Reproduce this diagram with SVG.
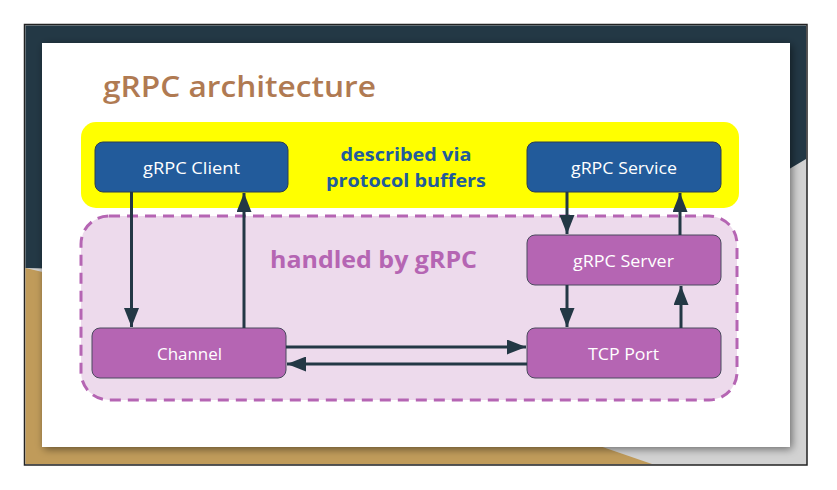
<svg xmlns="http://www.w3.org/2000/svg" width="837" height="490" viewBox="0 0 837 490">
  <defs>
    <filter id="slideShadow" x="-5%" y="-5%" width="110%" height="110%">
      <feGaussianBlur in="SourceAlpha" stdDeviation="4"/>
      <feOffset dx="2" dy="2" result="b"/>
      <feComponentTransfer><feFuncA type="linear" slope="0.5"/></feComponentTransfer>
      <feMerge><feMergeNode/><feMergeNode in="SourceGraphic"/></feMerge>
    </filter>
    <marker id="arrow" viewBox="0 0 19 15" refX="19" refY="7.5" markerWidth="19" markerHeight="15" markerUnits="userSpaceOnUse" orient="auto">
      <path d="M0,0 L19,7.5 L0,15 Z" fill="#233845"/>
    </marker>
    <style>
      .conn { stroke: #233845; stroke-width: 3; fill: none; marker-end: url(#arrow); }
      .blue { fill: #225b9b; stroke: #2d3e50; stroke-width: 1; }
      .purple { fill: #b565b3; stroke: #4a4a5e; stroke-width: 1; }
      .ntext { font-family: "Open Sans", "Liberation Sans", sans-serif; font-size: 16.5px; fill: #ffffff; text-anchor: middle; }
      .bold { font-family: "Open Sans", "Liberation Sans", sans-serif; font-weight: 700; text-anchor: middle; }
    </style>
  </defs>

  <!-- background frame -->
  <rect x="24.5" y="24.5" width="782.5" height="440.5" fill="#d2d2d2" stroke="#222" stroke-width="1.5"/>
  <polygon points="25.5,25.5 806,25.5 806,159 600,282 25.5,268" fill="#233845"/>
  <polygon points="25.5,268 200,309 652,464 25.5,464" fill="#c09b5a"/>
  <rect x="42" y="43" width="748" height="404" fill="#ffffff" filter="url(#slideShadow)"/>

  <!-- title -->
  <text x="103" y="97" font-family="Open Sans, Liberation Sans, sans-serif" font-size="28" font-weight="600" fill="#b07a52" textLength="273" lengthAdjust="spacingAndGlyphs">gRPC architecture</text>

  <g id="protobuf-region">
    <rect x="81" y="122" width="658" height="86" rx="15" fill="#ffff00"/>
    <text class="bold" x="406" y="161" font-size="18.5" fill="#225b9b" textLength="131" lengthAdjust="spacingAndGlyphs">described via</text>
    <text class="bold" x="406" y="187" font-size="18.5" fill="#225b9b" textLength="160" lengthAdjust="spacingAndGlyphs">protocol buffers</text>
  </g>
  <g id="grpc-region">
    <rect x="81" y="216" width="656" height="184" rx="28" fill="#eddaec" stroke="#b565b3" stroke-width="3" stroke-dasharray="11 7"/>
    <text class="bold" x="373.5" y="268" font-size="24" fill="#b565b3" textLength="207" lengthAdjust="spacingAndGlyphs">handled by gRPC</text>
  </g>

  <g id="grpc-client">
    <rect class="blue" x="95" y="142" width="193" height="50" rx="8"/>
    <text class="ntext" x="191.5" y="173.5" textLength="97" lengthAdjust="spacingAndGlyphs">gRPC Client</text>
  </g>
  <g id="grpc-service">
    <rect class="blue" x="527" y="142" width="194" height="50" rx="8"/>
    <text class="ntext" x="624" y="173.5" textLength="106" lengthAdjust="spacingAndGlyphs">gRPC Service</text>
  </g>
  <g id="grpc-server">
    <rect class="purple" x="527" y="235" width="194" height="50" rx="8"/>
    <text class="ntext" x="623.5" y="266.5" textLength="101" lengthAdjust="spacingAndGlyphs">gRPC Server</text>
  </g>
  <g id="channel">
    <rect class="purple" x="92" y="328" width="194" height="50" rx="8"/>
    <text class="ntext" x="189.5" y="359.5" textLength="65" lengthAdjust="spacingAndGlyphs">Channel</text>
  </g>
  <g id="tcp-port">
    <rect class="purple" x="527" y="328" width="194" height="50" rx="8"/>
    <text class="ntext" x="623.5" y="359.5" textLength="71" lengthAdjust="spacingAndGlyphs">TCP Port</text>
  </g>

  <g id="connectors">
    <line class="conn" x1="131.5" y1="192" x2="131.5" y2="327"/>
    <line class="conn" x1="244" y1="328" x2="244" y2="193"/>
    <line class="conn" x1="567" y1="192" x2="567" y2="234"/>
    <line class="conn" x1="680" y1="235" x2="680" y2="193"/>
    <line class="conn" x1="567" y1="285" x2="567" y2="327"/>
    <line class="conn" x1="681" y1="328" x2="681" y2="286"/>
    <line class="conn" x1="286" y1="347" x2="526" y2="347"/>
    <line class="conn" x1="527" y1="364" x2="287" y2="364"/>
  </g>
</svg>
